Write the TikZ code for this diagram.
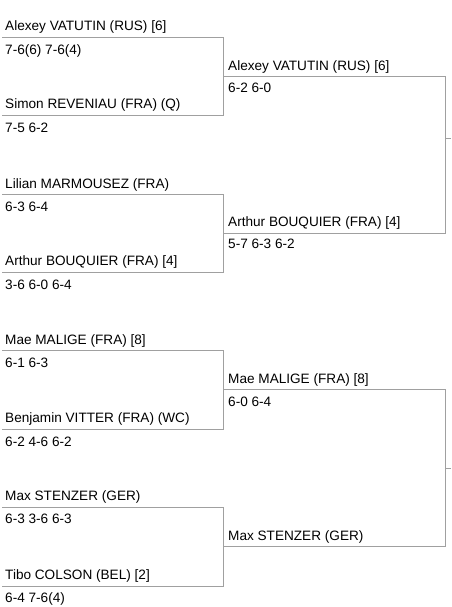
\documentclass[tikz,border=0pt]{standalone}
\usepackage{fontspec}
\setmainfont{Liberation Sans}
\usepackage{xcolor}
\usetikzlibrary{positioning}
\definecolor{linegray}{HTML}{A0A0A0}
\definecolor{textdark}{HTML}{000000}
\tikzset{every node/.style={font=\fontsize{13.6}{15}\selectfont}}

\begin{document}
\begin{tikzpicture}[x=1pt, y=-1pt]
    % Define styles
    \tikzstyle{player} = [anchor=base west, inner sep=0pt, text=textdark]
    \tikzstyle{score} = [anchor=base west, inner sep=0pt, text=textdark]
    \tikzstyle{bracket} = [draw=linegray, line width=1pt]

    \useasboundingbox (0,0) rectangle (451,607);

    % Round 1: brackets
    \draw [bracket] (2,37.5) -- (223,37.5) -- (223,116) -- (2,116);
    \draw [bracket] (2,194.5) -- (223,194.5) -- (223,272) -- (2,272);
    \draw [bracket] (2,350.5) -- (223,350.5) -- (223,429) -- (2,429);
    \draw [bracket] (2,507.5) -- (223,507.5) -- (223,586) -- (2,586);

    % Round 2: brackets
    \draw [bracket] (223,77) -- (445.5,77) -- (445.5,233) -- (223,233);
    \draw [bracket] (223,389.5) -- (445.5,389.5) -- (445.5,546) -- (223,546);

    % Ticks to next round
    \coordinate (topout) at (451,138);
    \coordinate (botout) at (451,468);
    \draw [bracket] (445.5,138) -- (topout);
    \draw [bracket] (445.5,468) -- (botout);

    % Round 1: first match
    \node (vatutinA) [player] at (5,31) {Alexey VATUTIN (RUS) [6]};
    \node (scoreA) [score] at (5,54.5) {7-6(6) 7-6(4)};
    \node (reveniau) [player] at (5,109) {Simon REVENIAU (FRA) (Q)};
    \node (scoreB) [score] at (5,132.7) {7-5 6-2};

    % Round 1: second match
    \node (marmousez) [player] at (5,188) {Lilian MARMOUSEZ (FRA)};
    \node (scoreC) [score] at (5,211) {6-3 6-4};
    \node (bouquierA) [player] at (5,265.5) {Arthur BOUQUIER (FRA) [4]};
    \node (scoreD) [score] at (5,289) {3-6 6-0 6-4};

    % Round 1: third match
    \node (maligeA) [player] at (5,344.5) {Mae MALIGE (FRA) [8]};
    \node (scoreE) [score] at (5,367.5) {6-1 6-3};
    \node (vitter) [player] at (5,422) {Benjamin VITTER (FRA) (WC)};
    \node (scoreF) [score] at (5,446) {6-2 4-6 6-2};

    % Round 1: fourth match
    \node (stenzerA) [player] at (5,500) {Max STENZER (GER)};
    \node (scoreG) [score] at (5,523.5) {6-3 3-6 6-3};
    \node (colson) [player] at (5,579) {Tibo COLSON (BEL) [2]};
    \node (scoreH) [score] at (5,602) {6-4 7-6(4)};

    % Round 2: first match
    \node (vatutinB) [player] at (228,71) {Alexey VATUTIN (RUS) [6]};
    \node (scoreI) [score] at (228,92.5) {6-2 6-0};
    \node (bouquierB) [player] at (228,226.5) {Arthur BOUQUIER (FRA) [4]};
    \node (scoreJ) [score] at (228,248) {5-7 6-3 6-2};

    % Round 2: second match
    \node (maligeB) [player] at (228,383.5) {Mae MALIGE (FRA) [8]};
    \node (scoreK) [score] at (228,406.5) {6-0 6-4};
    \node (stenzerB) [player] at (228,540) {Max STENZER (GER)};
\end{tikzpicture}
\end{document}
